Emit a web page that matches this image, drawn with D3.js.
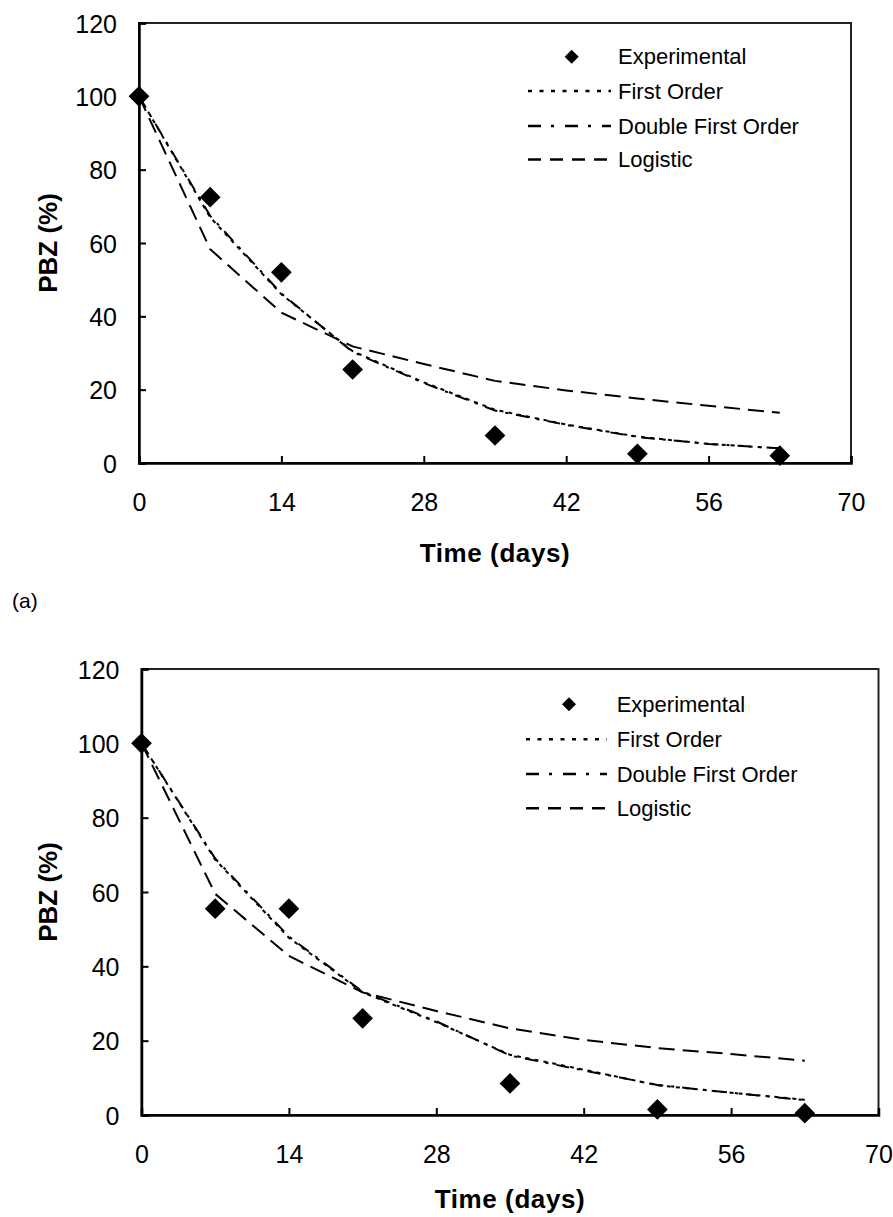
<!DOCTYPE html>
<html>
<head>
<meta charset="utf-8">
<script src="https://cdn.jsdelivr.net/npm/d3@7"></script>
<style>
  html, body { margin: 0; padding: 0; background: #fff; }
  svg { display: block; font-family: "Liberation Sans", Arial, sans-serif; }
</style>
</head>
<body>
<svg id="chart" width="893" height="1217"></svg>
<script>
// ---------- DATA ----------
const xTicks = [0, 14, 28, 42, 56, 70];
const yTicks = [0, 20, 40, 60, 80, 100, 120];
const expDays = [0, 7, 14, 21, 35, 49, 63];
const modelDays = [0, 7, 14, 21, 28, 35, 42, 49, 56, 63];
const seriesNames = ["Experimental", "First Order", "Double First Order", "Logistic"];

// Panel (a)
const expA = [100, 72.5, 52, 25.5, 7.5, 2.5, 2];
const firstOrderA = [100, 67, 46, 30.5, 22, 14.5, 10.5, 7.2, 5.2, 4.0];
const doubleFirstA = [100, 67.4, 46.2, 30.3, 21.8, 14.3, 10.4, 7.1, 5.2, 4.0];
const logisticA = [100, 58.3, 41, 31.8, 27, 22.4, 19.8, 17.6, 15.6, 13.7];

// Panel (b)
const expB = [100, 55.5, 55.5, 26, 8.5, 1.5, 0.5];
const firstOrderB = [100, 68.7, 47.7, 33, 25, 16.2, 12.2, 8.0, 6.0, 4.1];
const doubleFirstB = [100, 69, 48, 33.2, 25.2, 16.0, 12.0, 8.1, 6.0, 4.0];
const logisticB = [100, 59.5, 42.8, 33, 28, 23.3, 20.2, 18.0, 16.4, 14.6];

// ---------- DRAW ----------
const svg = d3.select("#chart");
const dashFirst = "4,5";
const dashDouble = "13,8,3,8";
const dashLogistic = "16,8";

function drawPanel(box, exp, fo, dfo, lg, leg) {
  const g = svg.append("g");
  const x = d3.scaleLinear().domain([0, 70]).range([box.left, box.right]);
  const y = d3.scaleLinear().domain([0, 120]).range([box.bottom, box.top]);

  // frame
  g.append("rect")
    .attr("x", box.left).attr("y", box.top)
    .attr("width", box.right - box.left).attr("height", box.bottom - box.top)
    .attr("fill", "none").attr("stroke", "#222").attr("stroke-width", 2);

  // axes with inward ticks
  const xAxis = d3.axisBottom(x).tickValues(xTicks).tickSize(-7).tickPadding(30).tickFormat(d3.format("d"));
  const yAxis = d3.axisLeft(y).tickValues(yTicks).tickSize(-7).tickPadding(22).tickFormat(d3.format("d"));

  const gx = g.append("g").attr("transform", `translate(0,${box.bottom})`).call(xAxis);
  const gy = g.append("g").attr("transform", `translate(${box.left},0)`).call(yAxis);
  [gx, gy].forEach(a => {
    a.select(".domain").attr("stroke", "#000").attr("stroke-width", 2.5);
    a.selectAll(".tick line").attr("stroke", "#000").attr("stroke-width", 2);
    a.selectAll(".tick text").attr("fill", "#000").attr("font-size", 25)
      .attr("font-family", "'Liberation Sans', Arial, sans-serif");
  });
  gx.selectAll(".tick text").attr("dy", "0.71em");
  gy.selectAll(".tick text").attr("dy", "0.36em");

  // axis titles
  g.append("text")
    .attr("x", (box.left + box.right) / 2).attr("y", box.bottom + leg.titleOffset)
    .attr("text-anchor", "middle").attr("font-weight", "bold").attr("font-size", 26)
    .attr("letter-spacing", 0.6)
    .text("Time (days)");
  g.append("text")
    .attr("transform", `translate(57,${(box.top + box.bottom) / 2}) rotate(-90)`)
    .attr("text-anchor", "middle").attr("font-weight", "bold").attr("font-size", 26)
    .text("PBZ (%)");

  const line = d3.line().x((d, i) => x(modelDays[i])).y(d => y(d));

  g.append("path").datum(lg).attr("d", line)
    .attr("fill", "none").attr("stroke", "#000").attr("stroke-width", 2)
    .attr("stroke-dasharray", dashLogistic);
  g.append("path").datum(fo).attr("d", line)
    .attr("fill", "none").attr("stroke", "#000").attr("stroke-width", 2)
    .attr("stroke-dasharray", dashFirst);
  g.append("path").datum(dfo).attr("d", line)
    .attr("fill", "none").attr("stroke", "#000").attr("stroke-width", 2)
    .attr("stroke-dasharray", dashDouble);

  const diamond = d3.symbol().type(d3.symbolSquare).size(215);
  g.selectAll(".pt").data(exp).enter().append("path")
    .attr("d", diamond)
    .attr("transform", (d, i) => `translate(${x(expDays[i])},${y(d)}) rotate(45)`)
    .attr("fill", "#000");

  // legend
  const lgG = g.append("g");
  seriesNames.forEach((name, i) => {
    const ry = leg.rows[i];
    if (i === 0) {
      lgG.append("path").attr("d", d3.symbol().type(d3.symbolSquare).size(98)())
        .attr("transform", `translate(${leg.marker},${ry}) rotate(45)`).attr("fill", "#000");
    } else {
      lgG.append("line").attr("x1", leg.lineX1).attr("x2", leg.lineX2)
        .attr("y1", ry).attr("y2", ry)
        .attr("stroke", "#000").attr("stroke-width", 2.6)
        .attr("stroke-dasharray", i === 2 ? "13,10,3,11" : (i === 1 ? "4,7.5" : "13,9"));
    }
    lgG.append("text").attr("x", leg.textX).attr("y", ry + 7.5)
      .attr("font-size", 22).attr("fill", "#000").text(name);
  });
}

drawPanel({left: 139, right: 851, top: 23, bottom: 463}, expA, firstOrderA, doubleFirstA, logisticA,
  {marker: 571.7, textX: 618, lineX1: 528, lineX2: 611, rows: [56.7, 91, 126, 159.5], titleOffset: 98.5});

svg.append("text").attr("x", 12).attr("y", 608).attr("font-size", 21).attr("fill", "#000").text("(a)");

drawPanel({left: 141.5, right: 878.5, top: 669, bottom: 1115}, expB, firstOrderB, doubleFirstB, logisticB,
  {marker: 569, textX: 616.7, lineX1: 526, lineX2: 607, rows: [704.3, 739.3, 774, 808.3], titleOffset: 93});
</script>
</body>
</html>
